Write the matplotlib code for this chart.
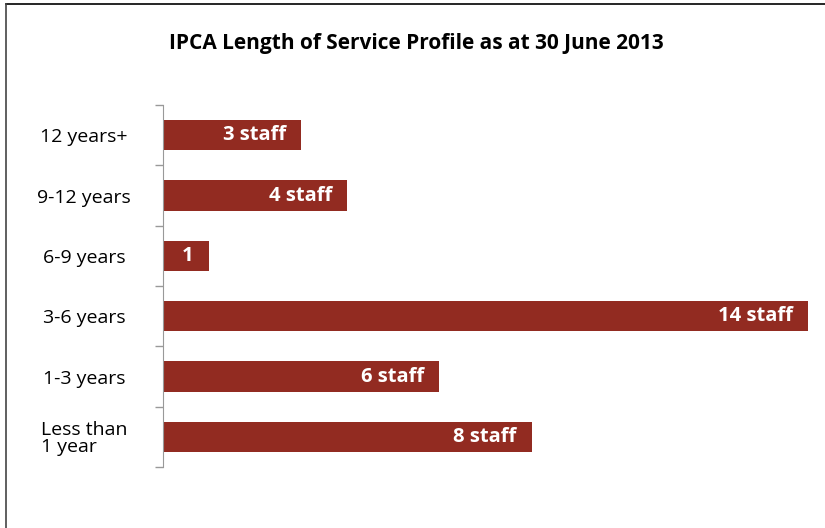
import matplotlib.pyplot as plt
from matplotlib.lines import Line2D

categories = ["12 years+", "9-12 years", "6-9 years", "3-6 years", "1-3 years", "Less than\n1 year"]
values = [3, 4, 1, 14, 6, 8]
bar_labels = ["3 staff", "4 staff", "1", "14 staff", "6 staff", "8 staff"]

plt.rcParams['font.family'] = ['Open Sans', 'DejaVu Sans']

fig = plt.figure(figsize=(8.25, 5.28), dpi=100)
ax = fig.add_axes([163 / 825, 1 - 467 / 528, (808 - 163) / 825, (467 - 105) / 528])

pos = list(range(len(categories)))
ax.barh(pos, values, height=0.5, color="#922B21")
for p, v, lab in zip(pos, values, bar_labels):
    ax.annotate(lab, (v, p), xytext=(-11, 0), textcoords="offset points",
                ha="right", va="center", color="white", fontsize=14.5, fontweight="bold")

ax.set_xlim(0, 14)
ax.set_ylim(5.5, -0.5)
ax.set_xticks([])
ax.set_yticks(pos)
ax.set_yticklabels(categories, fontsize=14, linespacing=0.95)
ax.set_yticks([i - 0.5 for i in range(len(categories) + 1)], minor=True)
ax.tick_params(axis="y", which="major", length=0, pad=57)
ax.tick_params(axis="y", which="minor", length=6, color="#999999", width=1)
for t in ax.get_yticklabels():
    t.set_horizontalalignment("center")
    t.set_multialignment("left")
for s in ["top", "right", "bottom"]:
    ax.spines[s].set_visible(False)
ax.spines["left"].set_color("#999999")

fig.text(416 / 825, 1 - 44 / 528, "IPCA Length of Service Profile as at 30 June 2013",
         ha="center", va="center", fontsize=15, fontweight="bold")

# chart frame
fig.add_artist(Line2D([6 / 825, 1], [1 - 4 / 528, 1 - 4 / 528], color="black", lw=1.2, transform=fig.transFigure))
fig.add_artist(Line2D([6 / 825, 6 / 825], [0, 1 - 4 / 528], color="#444444", lw=1.2, transform=fig.transFigure))

fig.savefig("out.png", dpi=100)
